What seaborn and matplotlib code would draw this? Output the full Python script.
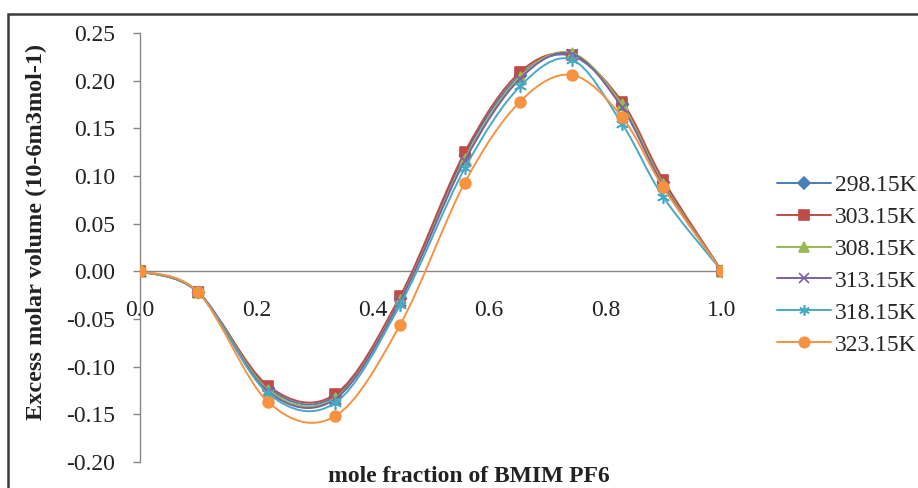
import numpy as np
import pandas as pd
import matplotlib
matplotlib.use("Agg")
import matplotlib.pyplot as plt
from matplotlib.path import Path
from matplotlib.patches import PathPatch, Rectangle
from matplotlib.lines import Line2D
import seaborn as sns

# ---------------- data ----------------
x_frac = [0.0, 0.100, 0.220, 0.335, 0.447, 0.558, 0.653, 0.742, 0.828, 0.899, 1.0]
v_298 = [0.0, -0.022, -0.122, -0.131, -0.028, 0.122, 0.206, 0.226, 0.176, 0.094, 0.0]
v_303 = [0.0, -0.022, -0.120, -0.129, -0.026, 0.125, 0.209, 0.227, 0.178, 0.096, 0.0]
v_308 = [0.0, -0.022, -0.124, -0.133, -0.030, 0.118, 0.204, 0.229, 0.175, 0.092, 0.0]
v_313 = [0.0, -0.022, -0.126, -0.134, -0.031, 0.116, 0.202, 0.228, 0.172, 0.090, 0.0]
v_318 = [0.0, -0.022, -0.128, -0.138, -0.035, 0.108, 0.194, 0.222, 0.155, 0.078, 0.0]
v_323 = [0.0, -0.022, -0.137, -0.152, -0.056, 0.093, 0.178, 0.206, 0.162, 0.088, 0.0]
series_labels = ["298.15K", "303.15K", "308.15K", "313.15K", "318.15K", "323.15K"]
series_values = [v_298, v_303, v_308, v_313, v_318, v_323]
x_ticks = [0.0, 0.2, 0.4, 0.6, 0.8, 1.0]
y_ticks = [-0.20, -0.15, -0.10, -0.05, 0.00, 0.05, 0.10, 0.15, 0.20, 0.25]
x_label = "mole fraction of BMIM PF6"
y_label = "Excess molar volume (10-6m3mol-1)"

colors = ["#4A7EBB", "#BE4B48", "#98B954", "#7D60A0", "#46AAC5", "#F69240"]
markers = ["D", "s", "^", "x", (6, 2, 0), "o"]
msizes = [38, 60, 60, 60, 70, 60]

rows = []
for lab, vals in zip(series_labels, series_values):
    for xv, yv in zip(x_frac, vals):
        rows.append({"x": xv, "v": yv, "T": lab})
df = pd.DataFrame(rows)

sns.set_style("white")
plt.rcParams["font.family"] = ["Liberation Serif", "DejaVu Serif"]

fig = plt.figure(figsize=(9.18, 4.88), dpi=100)
ax = fig.add_axes([140 / 918, 1 - 462 / 488, (722 - 140) / 918, (462 - 33) / 488])


def smooth_path(xs, ys):
    pts = np.column_stack([xs, ys])
    n = len(pts)
    verts = [pts[0]]
    codes = [Path.MOVETO]
    for i in range(n - 1):
        p0 = pts[i - 1] if i > 0 else pts[i]
        p1 = pts[i]
        p2 = pts[i + 1]
        p3 = pts[i + 2] if i + 2 < n else pts[i + 1]
        c1 = p1 + (p2 - p0) / 6.0
        c2 = p2 - (p3 - p1) / 6.0
        verts += [c1, c2, p2]
        codes += [Path.CURVE4] * 3
    return Path(verts, codes)


for i, lab in enumerate(series_labels):
    sub = df[df["T"] == lab]
    patch = PathPatch(smooth_path(sub["x"].values, sub["v"].values), facecolor="none",
                      edgecolor=colors[i], lw=1.4, zorder=2 + 2 * i)
    ax.add_patch(patch)
    mk = markers[i]
    filled = mk not in ("x",) and not isinstance(mk, tuple)
    sns.scatterplot(data=sub, x="x", y="v", ax=ax, marker=mk, s=msizes[i],
                    color=colors[i], edgecolor=colors[i] if filled else None,
                    linewidth=1.2, legend=False, zorder=3 + 2 * i)

ax.set_xlim(0, 1.0)
ax.set_ylim(-0.2, 0.25)
ax.set_xticks(x_ticks)
ax.set_xticklabels([f"{t:.1f}" for t in x_ticks])
ax.set_yticks(y_ticks)
ax.set_yticklabels([f"{t:.2f}" for t in y_ticks])
ax.set_xlabel("")
ax.set_ylabel("")

for s in ["top", "right"]:
    ax.spines[s].set_visible(False)
ax.spines["bottom"].set_position(("data", 0))
for s in ["left", "bottom"]:
    ax.spines[s].set_color("#868686")
    ax.spines[s].set_linewidth(1.0)
    ax.spines[s].set_zorder(1)

ax.tick_params(axis="x", direction="in", length=5, width=1, color="#868686",
               pad=21, labelsize=17, labelcolor="#222222")
ax.tick_params(axis="y", direction="out", length=5, width=1, color="#868686",
               pad=13, labelsize=17, labelcolor="#222222", left=True)
ax.set_facecolor("none")

fig.text(36 / 918, 1 - 232 / 488, y_label, rotation=90, ha="center", va="center",
         fontsize=17.5, fontweight="bold", color="#222222")
fig.text(469 / 918, 1 - 477 / 488, x_label, ha="center", va="center",
         fontsize=17, fontweight="bold", color="#222222")

handles = []
for i in range(len(series_labels)):
    mk = markers[i]
    handles.append(Line2D([], [], color=colors[i], lw=1.4, marker=mk,
                          markersize=(7.5 if mk != "D" else 6),
                          markerfacecolor=colors[i], markeredgecolor=colors[i],
                          markeredgewidth=1.2))
fig.legend(handles, series_labels, loc="center left",
           bbox_to_anchor=(777 / 918, 1 - 265 / 488), frameon=False,
           fontsize=17, handlelength=2.3, handletextpad=0.15, labelspacing=0.44,
           borderpad=0, borderaxespad=0)

fig.patches.append(Rectangle((8 / 918, -0.2), 2, 1.2 - 14 / 488, transform=fig.transFigure,
                             fill=False, edgecolor="#3a3a3a", lw=1.8))

fig.savefig("out.png", dpi=100, facecolor="white")
